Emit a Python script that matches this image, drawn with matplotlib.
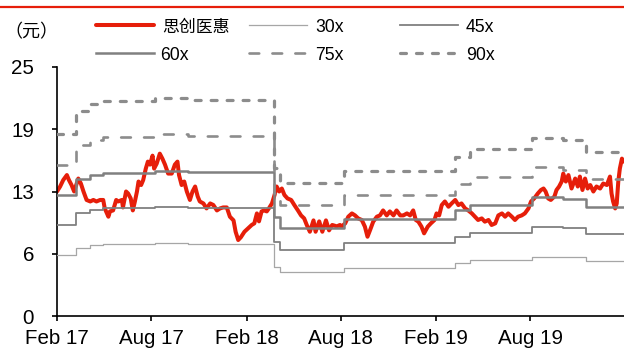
import matplotlib
matplotlib.use("Agg")
import matplotlib.pyplot as plt
import matplotlib.dates as mdates
from matplotlib.lines import Line2D
import pandas as pd
import numpy as np

plt.rcParams['font.family'] = ['Liberation Sans', 'Noto Sans CJK SC', 'DejaVu Sans']
plt.rcParams['lines.scale_dashes'] = False

# ---------------- data ----------------
START = "2017-02-01"
END_DAY = 1092  # right edge of the chart, days after START

stock_label = "思创医惠"
# closing price (元), dates given as days after START
price_days = [0, 6, 12, 19, 23, 28, 33, 41, 46, 51, 57, 64, 70, 76, 83, 89, 92, 99, 102, 108,
              114, 118, 125, 127, 133, 137, 142, 146, 150, 154, 157, 162, 166, 171, 175, 179, 184, 187, 192, 198,
              203, 208, 214, 221, 227, 232, 235, 240, 245, 250, 256, 261, 266, 271, 275,
              282, 288, 295, 301, 308, 314, 320, 327, 333, 340, 344, 349, 354, 361, 368, 375, 380, 385, 389,
              394, 399, 404, 408, 414, 419, 423, 428, 433, 438, 444, 451, 457, 464, 470, 476, 481, 487, 494,
              498, 505, 511, 518, 524, 530, 539, 545,
              548, 555, 561, 568, 574, 580, 587, 593, 598, 603, 609, 616, 622, 628, 635, 641, 648, 654, 661,
              667, 674, 680, 686, 691, 696, 702, 707, 714, 720, 727, 731, 736, 741, 747, 754, 760, 767, 773,
              779, 786, 792, 799, 805,
              811, 818, 824, 831, 837, 844, 850, 857, 863, 869, 876, 882, 888, 895, 901, 908, 913, 919, 926,
              932, 937, 941, 946, 951, 958, 962, 967, 972, 975, 980, 985, 991, 998, 1003, 1007, 1012, 1017,
              1022, 1027, 1033, 1039, 1046, 1052, 1059, 1065, 1068, 1071, 1075, 1078, 1081, 1084, 1088, 1091]
price_vals = [12.5, 13.0, 13.65, 14.15, 13.65, 13.15, 12.5, 13.8, 13.3, 12.5, 11.65, 11.5, 11.65, 11.5, 11.65, 11.65, 10.8, 9.97, 10.5, 10.6,
              11.65, 11.5, 11.65, 10.9, 12.5, 12.3, 11.8, 10.6, 11.5, 12.5, 13.5, 13.15, 13.65, 14.8, 15.5, 15.2, 16.1, 14.8, 15.3, 16.3,
              15.8, 15.2, 14.3, 14.3, 15.2, 15.5, 14.15, 13.15, 13.5, 12.5, 11.65, 12.5, 13.0, 12.0, 11.5,
              11.3, 10.8, 11.3, 11.15, 10.6, 10.8, 10.9, 10.9, 9.97, 9.6, 8.46, 7.63, 7.9, 8.46, 8.8, 9.14, 9.3, 10.3, 9.5,
              10.5, 10.6, 10.5, 10.8, 11.3, 12.15, 13.0, 12.5, 12.8, 12.15, 11.8, 11.65, 11.15, 10.6, 10.1, 9.8, 9.14, 8.46, 9.6,
              8.46, 9.5, 8.46, 9.6, 8.6, 9.14, 9.0, 9.14,
              8.97, 9.3, 9.97, 10.3, 10.1, 9.8, 9.64, 8.97, 7.96, 8.63, 9.47, 9.97, 10.1, 10.6, 10.1, 10.5, 10.1, 10.6, 10.1,
              10.1, 10.3, 10.1, 10.6, 9.64, 9.47, 8.97, 8.3, 8.97, 9.3, 9.64, 10.3, 10.1, 11.14, 11.5, 10.97, 11.3, 11.65, 11.14,
              11.3, 10.8, 10.6, 10.3, 9.97,
              9.64, 9.8, 9.47, 9.64, 9.14, 9.3, 10.1, 10.3, 9.97, 10.3, 9.97, 9.64, 9.97, 10.1, 10.3, 10.8, 11.5, 11.8, 12.3,
              12.65, 12.8, 12.5, 11.8, 11.65, 12.0, 12.65, 13.0, 13.5, 14.3, 13.5, 14.15, 12.8, 13.8, 13.0, 14.0, 12.65, 13.8,
              12.8, 13.15, 12.5, 13.0, 12.8, 13.3, 13.15, 14.0, 12.3, 11.5, 10.8, 11.3, 13.5, 14.8, 15.8, 15.5]

# EPS used for the PE bands (step changes), days after START
eps_days = [0, 37, 64, 89, 189, 252, 417, 429, 553, 767, 795, 915, 975, 1019]
eps_vals = [0.2025, 0.229, 0.236, 0.240, 0.243, 0.241, 0.165, 0.148, 0.162, 0.177, 0.186, 0.199, 0.196, 0.183]

multiples = [30, 45, 60, 75, 90]
band_labels = ["30x", "45x", "60x", "75x", "90x"]

xtick_dates = ["2017-02-01", "2017-08-01", "2018-02-01", "2018-08-01", "2019-02-01", "2019-08-01"]
xtick_labels = ["Feb 17", "Aug 17", "Feb 18", "Aug 18", "Feb 19", "Aug 19"]
ytick_vals = [0, 6.25, 12.5, 18.75, 25]
ytick_labels = ["0", "6", "13", "19", "25"]
unit_label = "（元）"

# ---------------- styles ----------------
RED = "#E61E0A"
band_styles = [
    dict(color="#A6A6A6", lw=0.9),
    dict(color="#808080", lw=1.3),
    dict(color="#808080", lw=1.8),
    dict(color="#8C8C8C", lw=1.9, dashes=(7, 9.5), dash_capstyle="round"),
    dict(color="#8C8C8C", lw=2.3, dashes=(4.3, 7.2), dash_capstyle="round"),
]
red_style = dict(color=RED, lw=2.9, solid_joinstyle="round", solid_capstyle="round")

W, H = 624, 352
fig = plt.figure(figsize=(W / 100, H / 100), dpi=100)
ax = fig.add_axes([57 / W, 1 - 316 / H, (W - 57) / W, (316 - 67) / H])

t0 = pd.Timestamp(START)
pdates = t0 + pd.to_timedelta(price_days, unit="D")
ax.plot(pdates, price_vals, zorder=2, **red_style)

edays = list(eps_days) + [END_DAY]
evals = list(eps_vals) + [eps_vals[-1]]
edates = t0 + pd.to_timedelta(edays, unit="D")
for m, st in zip(multiples, band_styles):
    ax.plot(edates, np.array(evals) * m, drawstyle="steps-post", zorder=3, **st)

ax.set_xlim(t0, t0 + pd.Timedelta(days=END_DAY))
ax.set_ylim(0, 25)
ax.set_xticks(pd.to_datetime(xtick_dates))
ax.set_xticklabels(xtick_labels)
ax.set_yticks(ytick_vals)
ax.set_yticklabels(ytick_labels)
for s in ["top", "right"]:
    ax.spines[s].set_visible(False)
for s in ["left", "bottom"]:
    ax.spines[s].set_linewidth(1.2)
ax.tick_params(axis="both", direction="out", length=3.6, width=1.2, labelsize=14.8)
ax.tick_params(axis="y", pad=13)
ax.tick_params(axis="x", pad=5.5)

# ---------------- legend (manual) ----------------
def fx(px):
    return px / W

def fy(py):
    return 1 - py / H

entries = [(stock_label, red_style)] + list(zip(band_labels, band_styles))
col_x = [96, 249, 400]
row_y = [25, 53]
for i, (lab, st) in enumerate(entries):
    r, c = divmod(i, 3)
    x0 = col_x[c]
    y0 = row_y[r]
    st2 = dict(st)
    ln = Line2D([fx(x0), fx(x0 + 58)], [fy(y0), fy(y0)], transform=fig.transFigure, **st2)
    fig.add_artist(ln)
    tx = x0 + 66 if i != 3 else x0 + 64
    if lab == stock_label:
        fig.text(fx(tx), fy(y0 + 7), lab, fontsize=12.2, family=["Noto Sans CJK SC"], va="baseline", ha="left")
    else:
        fig.text(fx(tx), fy(y0 + 7.5), lab, fontsize=12.7, va="baseline", ha="left")

fig.text(fx(31), fy(32), unit_label, fontsize=13, family=["Noto Sans CJK SC", "DejaVu Sans"], ha="center", va="center")

# top red rule
fig.add_artist(Line2D([0, 1], [fy(6.5), fy(6.5)], transform=fig.transFigure, color=RED, lw=1.6))

fig.savefig("out.png", dpi=100)
